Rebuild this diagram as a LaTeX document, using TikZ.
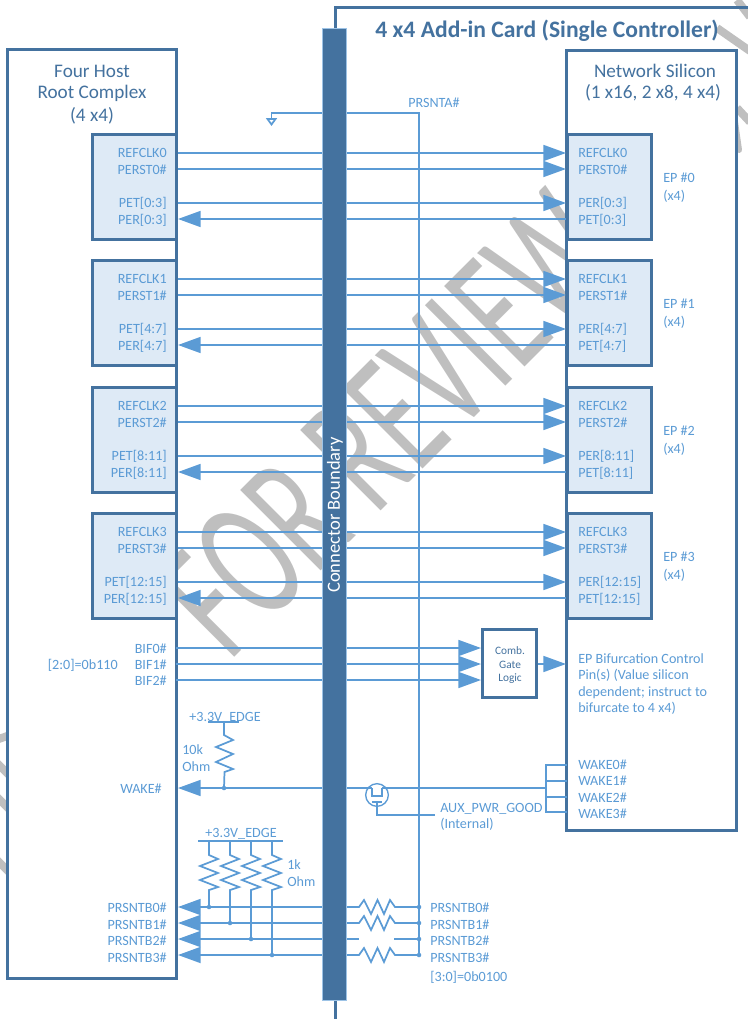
\documentclass[tikz,border=0pt]{standalone}
\usepackage{fontspec}
\setmainfont{Carlito}
\usetikzlibrary{arrows.meta}
\definecolor{sigblue}{HTML}{5B9BD5}
\definecolor{darkblue}{HTML}{44729F}
\definecolor{epfill}{HTML}{DEEAF6}
\definecolor{wmgray}{HTML}{BFBFBF}
\tikzset{
  sig/.style={draw=sigblue, line width=1.3pt},
  tipped/.style={sig, -{Triangle[length=17pt,width=12pt]}},
  chip/.style={draw=darkblue, line width=2.25pt, fill=white, inner sep=0},
  epblock/.style={chip, fill=epfill, minimum width=63pt, minimum height=79pt},
  pin/.style={font=\fontsize{10.6}{12}\selectfont, text=sigblue, inner sep=0, yshift=-1.2pt},
  pinl/.style={pin, anchor=mid west},
  pinr/.style={pin, anchor=mid east},
  head/.style={font=\fontsize{14.4}{16}\selectfont, text=darkblue, inner sep=0},
  combtext/.style={font=\fontsize{8.5}{10}\selectfont, text=darkblue, inner sep=0},
  wmline/.style={wmgray, line width=6pt},
}
\begin{document}
\begin{tikzpicture}[x=0.75pt, y=-0.75pt]
\useasboundingbox (0,0) rectangle (748,1019);
\clip (0,0) rectangle (748,1019);

% watermark, under everything
\node[rotate=45, xscale=0.62, anchor=base west, inner sep=0, text=wmgray, font=\fontsize{133}{133}\selectfont] (review) at (229,663) {FOR REVIEW};
\draw[wmline] (-4,740) -- (10,735);
\foreach \yw in {762,796,859} \draw[wmline] (-4,\yw) -- (12,\yw+16);
\draw[wmline] (737,0) -- (750,17);
\draw[wmline] (717,28) -- (750,51);
\draw[wmline] (737,108) -- (750,122);
\draw[wmline, line width=4.5pt, line cap=round] (735,122) -- (739,150);

% add-in card outline
\draw[darkblue, line width=2.25pt] (750,8) -| (335,1021);
\node[font=\bfseries\fontsize{17.7}{20}\selectfont, text=darkblue, inner sep=0] (cardtitle) at (547,31) {4 x4 Add-in Card (Single Controller)};

% the two chips
\node[chip, minimum width=127pt, minimum height=696pt] (host) at (92,514) {};
\node[chip, minimum width=127pt, minimum height=585pt] (silicon) at (651.5,440.5) {};
\node[head] (hosta) at (92,71) {Four Host};
\node[head] (hostb) at (92,93) {Root Complex};
\node[head] (hostc) at (92,116) {(4 x4)};
\node[head] (sila) at (655,71) {Network Silicon};
\node[head] (silb) at (653,93) {(1 x16, 2 x8, 4 x4)};

% four lanes groups
\foreach \n/\r/\y in {0/0:3/153, 1/4:7/279, 2/8:11/406, 3/12:15/532} {
  \node[epblock] (hep\n) at (134,\y+34) {};
  \node[epblock] (cep\n) at (609.5,\y+34) {};
  \node[pinr] (hclk\n) at (167,\y) {REFCLK\n};
  \node[pinr] (hrst\n) at (167,\y+16.5) {PERST\n\#};
  \node[pinr] (hpet\n) at (167,\y+50) {PET[\r]};
  \node[pinr] (hper\n) at (167,\y+66.5) {PER[\r]};
  \node[pinl] (cclk\n) at (578,\y) {REFCLK\n};
  \node[pinl] (crst\n) at (578,\y+16.5) {PERST\n\#};
  \node[pinl] (cper\n) at (578,\y+50) {PER[\r]};
  \node[pinl] (cpet\n) at (578,\y+66.5) {PET[\r]};
  \node[pinl] (epa\n) at (663,\y+25) {EP \#\n};
  \node[pinl] (epb\n) at (663,\y+43) {(x4)};
  \coordinate (ha\n) at (178,\y);
  \coordinate (hb\n) at (178,\y+16);
  \coordinate (hc\n) at (178,\y+50);
  \coordinate (hd\n) at (178,\y+66);
  \coordinate (ca\n) at (566,\y);
  \coordinate (cb\n) at (566,\y+16);
  \coordinate (cc\n) at (566,\y+50);
  \coordinate (cd\n) at (566,\y+66);
  \draw[tipped] (ha\n) -- (ca\n);
  \draw[tipped] (hb\n) -- (cb\n);
  \draw[tipped] (hc\n) -- (cc\n);
  \draw[tipped] (cd\n) -- (hd\n);
}

% bifurcation pins
\node[chip, minimum width=40pt, minimum height=51pt] (comb) at (509.5,663.5) {};
\node[combtext] (comba) at (510,651) {Comb.};
\node[combtext] (combb) at (510,665) {Gate};
\node[combtext] (combc) at (510,679) {Logic};
\foreach \n/\y in {0/648, 1/664, 2/680} {
  \node[pinr] (bif\n) at (167,\y+1) {BIF\n\#};
  \coordinate (bl\n) at (176,\y);
  \coordinate (br\n) at (481,\y);
  \draw[tipped] (bl\n) -- (br\n);
}
\node[pinr] (bifval) at (118,665) {[2:0]=0b110};
\coordinate (combout) at (566,664);
\draw[tipped] (comb.east |- combout) -- (combout);
\node[pinl] (bifa) at (578,659) {EP Bifurcation Control};
\node[pinl] (bifb) at (578,675) {Pin(s) (Value silicon};
\node[pinl] (bifc) at (578,692) {dependent; instruct to};
\node[pinl] (bifd) at (578,708) {bifurcate to 4 x4)};

% wake
\coordinate (wakehost) at (178,788);
\coordinate (fetl) at (372,788);
\coordinate (fetr) at (382,788);
\coordinate (wakejoin) at (546,788);
\draw[tipped] (fetl) -- (wakehost);
\draw[sig] (fetr) -- (wakejoin);
\node[pinr] (wakel) at (162,789) {WAKE\#};
\node[circle, draw=sigblue, line width=1pt, minimum size=17pt, inner sep=0] (fet) at (377,795) {};
\draw[sig] (fetl) -- (372,796) -- (382,796) -- (fetr);
\draw[sig] (372,802) -- (382,802);
\coordinate (auxend) at (435,815);
\draw[sig] (377,802) |- (auxend);
\node[pinl] (auxa) at (440,808) {AUX\_PWR\_GOOD};
\node[pinl] (auxb) at (440,824) {(Internal)};
\draw[sig] (567,765) -| (wakejoin);
\draw[sig] (567,812) -| (wakejoin);
\draw[sig] (546,781) -- (567,781);
\draw[sig] (546,797) -- (567,797);
\foreach \n/\y in {0/765, 1/781, 2/798, 3/814} \node[pinl] (wake\n) at (578,\y) {WAKE\n\#};

% pull-up on wake
\node[pin] (edgea) at (225,716) {+3.3V\_EDGE};
\draw[sig] (208,722) -- (239,722);
\draw[sig] (224,722) -- (224,735) -- ++(9,5) -- ++(-17,7) -- ++(17,7) -- ++(-17,8) -- ++(17,7) -- ++(-8.5,3) -- (224,788);
\fill[sigblue] (224,788) circle (1.7pt);
\node[pinl] (tenk) at (182,750) {10k};
\node[pinl] (tenohm) at (182,767) {Ohm};

% presence detect
\node[pin] (edgeb) at (241,832) {+3.3V\_EDGE};
\draw[sig] (198,841) -- (283,841);
\node[pinl] (onek) at (287,865) {1k};
\node[pinl] (oneohm) at (287,882) {Ohm};
\foreach \n/\x/\y/\t in {0/209/907/908, 1/230/923/924.5, 2/251/939/941, 3/272/955/958} {
  \coordinate (pl\n) at (178,\y);
  \coordinate (pb\n) at (346,\y);
  \coordinate (pr\n) at (419,\y);
  \draw[tipped] (pb\n) -- (pl\n);
  \draw[sig] (\x,841) -- (\x,855) -- ++(9,4) -- ++(-18,7) -- ++(18,7) -- ++(-18,7) -- ++(18,7) -- ++(-9,3) -- (\x,\y);
  \fill[sigblue] (\x,\y) circle (1.7pt);
  \fill[sigblue] (pr\n) circle (1.7pt);
  \node[pinr] (pbl\n) at (167,\t) {PRSNTB\n\#};
  \node[pinl] (pbr\n) at (430,\t) {PRSNTB\n\#};
}
\foreach \n in {0,1,3}
  \draw[sig] (pb\n) -- ++(13,0) -- ++(5,-7) -- ++(7,14) -- ++(6.5,-14) -- ++(6.5,14) -- ++(6,-14) -- ++(5,7) -- (pr\n);
\draw[sig] (pb2) -- ++(13,0);
\draw[sig] (pr2) -- ++(-25,0);
\node[pinl] (pbval) at (430,977) {[3:0]=0b0100};

% prsnta
\coordinate (prsbot) at (419,955);
\draw[sig] (prsbot) -- (419,113) -- (271.5,113) -- (271.5,119);
\draw[sig] (267.5,119) -- (275.5,119) -- (271.5,124.5) -- cycle;
\node[pinl] (prsnta) at (408,103) {PRSNTA\#};

% connector bar on top of the wires
\node[fill=darkblue, draw=sigblue!60, line width=0.5pt, minimum width=18pt, minimum height=729pt, inner sep=0] (bar) at (334,514) {};
\node[rotate=90, font=\fontsize{13.9}{15}\selectfont, text=white, inner sep=0] (barlabel) at (335,515) {Connector Boundary};
\end{tikzpicture}
\end{document}
